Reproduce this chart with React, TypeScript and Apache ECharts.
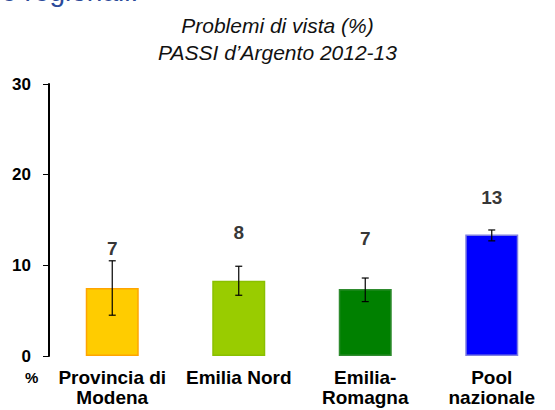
import React, { useEffect, useRef } from "react";
import * as echarts from "echarts";

const categories = ["Provincia di\nModena", "Emilia Nord", "Emilia-\nRomagna", "Pool\nnazionale"];
const values = [7.5, 8.3, 7.4, 13.4];
const errLow = [4.5, 6.7, 6.0, 12.7];
const errHigh = [10.5, 9.9, 8.6, 13.9];
const valueLabels = ["7", "8", "7", "13"];
const labelLevels = [11.9, 13.6, 13.0, 17.5];
const barColors = ["#FFCC00", "#99CC00", "#008000", "#0000FF"];
const barBorders = ["#FFA500", "#8AC000", "#2E8B2E", "#7F7FE0"];
const yTicks = { min: 0, max: 30, interval: 10 };

const FONT = "'Liberation Sans', Arial, sans-serif";

export default function App() {
  const ref = useRef<HTMLDivElement>(null);
  useEffect(() => {
    if (!ref.current) return;
    const chart = echarts.init(ref.current, undefined, { renderer: "svg" });
    chart.setOption({
      animation: false,
      backgroundColor: "#ffffff",
      textStyle: { fontFamily: FONT },
      title: {
        text: "Problemi di vista (%)\nPASSI d\u2019Argento 2012-13",
        left: "center",
        top: 7,
        textStyle: {
          fontFamily: FONT,
          fontStyle: "italic",
          fontWeight: "normal",
          fontSize: 21,
          lineHeight: 27,
          color: "#111111",
        },
      },
      graphic: [
        {
          type: "text",
          left: -5,
          top: -23,
          style: {
            text: "le regionali.",
            fontFamily: FONT,
            fontSize: 28,
            fill: "#2B4A9A",
          },
        },
        {
          type: "text",
          left: 25,
          top: 370,
          style: {
            text: "%",
            fontFamily: FONT,
            fontSize: 15,
            fontWeight: "bold",
            fill: "#000",
          },
        },
      ],
      grid: { left: 49, top: 84, width: 524, height: 272, containLabel: false },
      xAxis: {
        type: "category",
        data: categories,
        axisLine: { show: false },
        axisTick: { show: false },
        axisLabel: {
          interval: 0,
          margin: 11,
          fontFamily: FONT,
          fontSize: 19,
          fontWeight: "bold",
          lineHeight: 20,
          color: "#000",
        },
      },
      yAxis: {
        type: "value",
        min: yTicks.min,
        max: yTicks.max,
        interval: yTicks.interval,
        splitLine: { show: false },
        axisLine: { show: true, lineStyle: { color: "#000", width: 2 } },
        axisTick: { show: true, length: 6, lineStyle: { color: "#000", width: 1 } },
        axisLabel: {
          margin: 18,
          fontFamily: FONT,
          fontSize: 17,
          fontWeight: "bold",
          color: "#000",
        },
      },
      series: [
        {
          type: "bar",
          barWidth: 53,
          data: values.map((v, i) => ({
            value: v,
            itemStyle: { color: barColors[i], borderColor: barBorders[i], borderWidth: 1.5 },
          })),
          z: 2,
        },
        {
          type: "custom",
          z: 5,
          data: values.map((_, i) => [i, errLow[i], errHigh[i]]),
          renderItem: (params: any, api: any) => {
            const x = api.coord([api.value(0), 0])[0];
            const lo = api.coord([api.value(0), api.value(1)])[1];
            const hi = api.coord([api.value(0), api.value(2)])[1];
            const w = 3.5;
            const st = { stroke: "#000", lineWidth: 1.2 };
            return {
              type: "group",
              children: [
                { type: "line", shape: { x1: x, y1: lo, x2: x, y2: hi }, style: st },
                { type: "line", shape: { x1: x - w, y1: hi, x2: x + w, y2: hi }, style: st },
                { type: "line", shape: { x1: x - w, y1: lo, x2: x + w, y2: lo }, style: st },
              ],
            };
          },
        },
        {
          type: "scatter",
          symbolSize: 0,
          z: 6,
          data: labelLevels,
          label: {
            show: true,
            position: "inside",
            formatter: (p: any) => valueLabels[p.dataIndex],
            fontFamily: FONT,
            fontSize: 19,
            fontWeight: "bold",
            color: "#000",
          },
        },
      ],
    });
    return () => chart.dispose();
  }, []);
  return (
    <div
      ref={ref}
      style={{ position: "absolute", left: 0, top: 0, width: 555, height: 410 }}
    />
  );
}
